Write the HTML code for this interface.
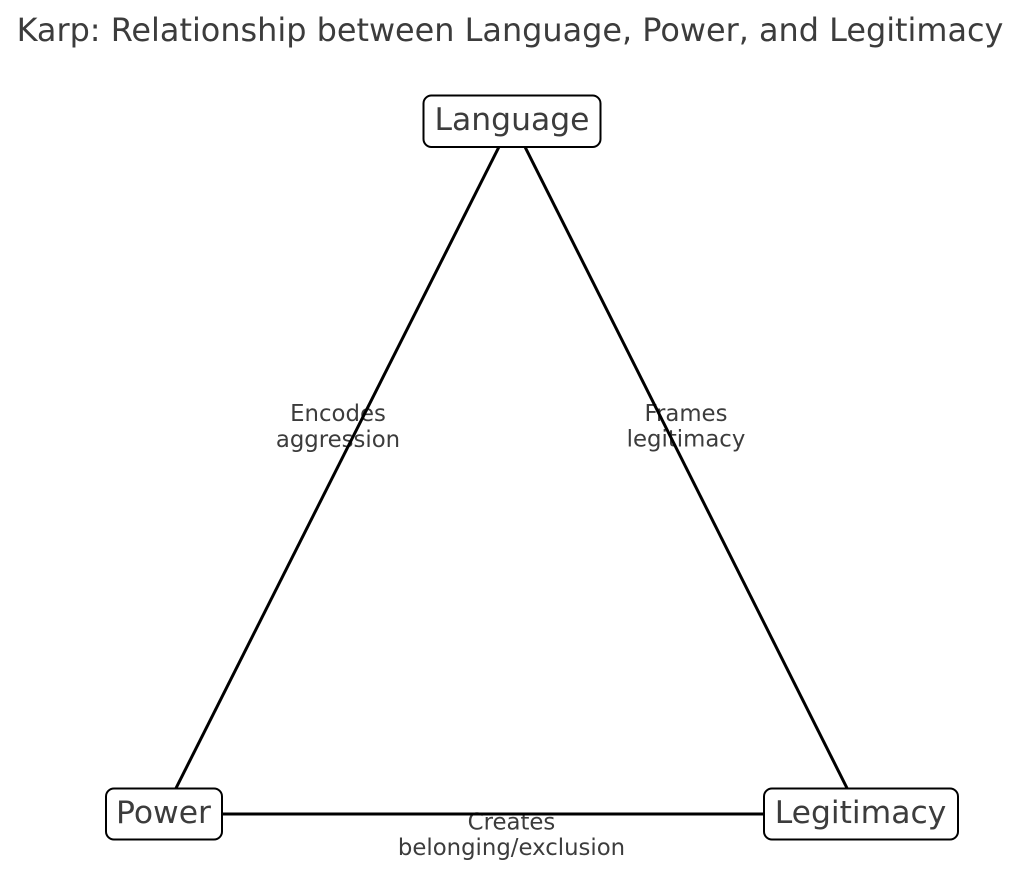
<!DOCTYPE html>
<html>
<head>
<meta charset="utf-8">
<style>
  html, body { margin: 0; padding: 0; background: #ffffff; }
  body { width: 1024px; height: 876px; overflow: hidden; }
  svg { display: block; }
  text { font-family: "DejaVu Sans", "Liberation Sans", sans-serif; fill: #3c3c3c; }
</style>
</head>
<body>
<svg width="1024" height="876" viewBox="0 0 1024 876" xmlns="http://www.w3.org/2000/svg">
  <rect x="0" y="0" width="1024" height="876" fill="#ffffff"/>

  <!-- Title -->
  <text x="510" y="41" font-size="31.9" text-anchor="middle">Karp: Relationship between Language, Power, and Legitimacy</text>

  <!-- Edge labels (under lines) -->
  <text x="338" y="421" font-size="22.8" text-anchor="middle">Encodes</text>
  <text x="338" y="447" font-size="22.8" text-anchor="middle">aggression</text>

  <text x="686" y="421" font-size="22.8" text-anchor="middle">Frames</text>
  <text x="686" y="446.5" font-size="22.8" text-anchor="middle">legitimacy</text>

  <text x="511.5" y="829.5" font-size="22.8" text-anchor="middle">Creates</text>
  <text x="511.5" y="855" font-size="22.8" text-anchor="middle">belonging/exclusion</text>

  <!-- Edges -->
  <g stroke="#000000" stroke-width="3" stroke-linecap="butt" fill="none">
    <line x1="512" y1="121" x2="163" y2="814"/>
    <line x1="512" y1="121" x2="860" y2="814"/>
    <line x1="163" y1="814" x2="860" y2="814"/>
  </g>

  <!-- Nodes -->
  <g stroke="#000000" stroke-width="2" fill="#ffffff">
    <rect x="423.5" y="95.5" width="177" height="51.5" rx="8" ry="8"/>
    <rect x="106" y="788.5" width="116" height="51" rx="8" ry="8"/>
    <rect x="764" y="788.5" width="194" height="51" rx="8" ry="8"/>
  </g>

  <text x="512" y="130" font-size="31.4" text-anchor="middle">Language</text>
  <text x="163.5" y="823" font-size="31.4" text-anchor="middle">Power</text>
  <text x="860.5" y="823" font-size="31.4" text-anchor="middle">Legitimacy</text>
</svg>
</body>
</html>
